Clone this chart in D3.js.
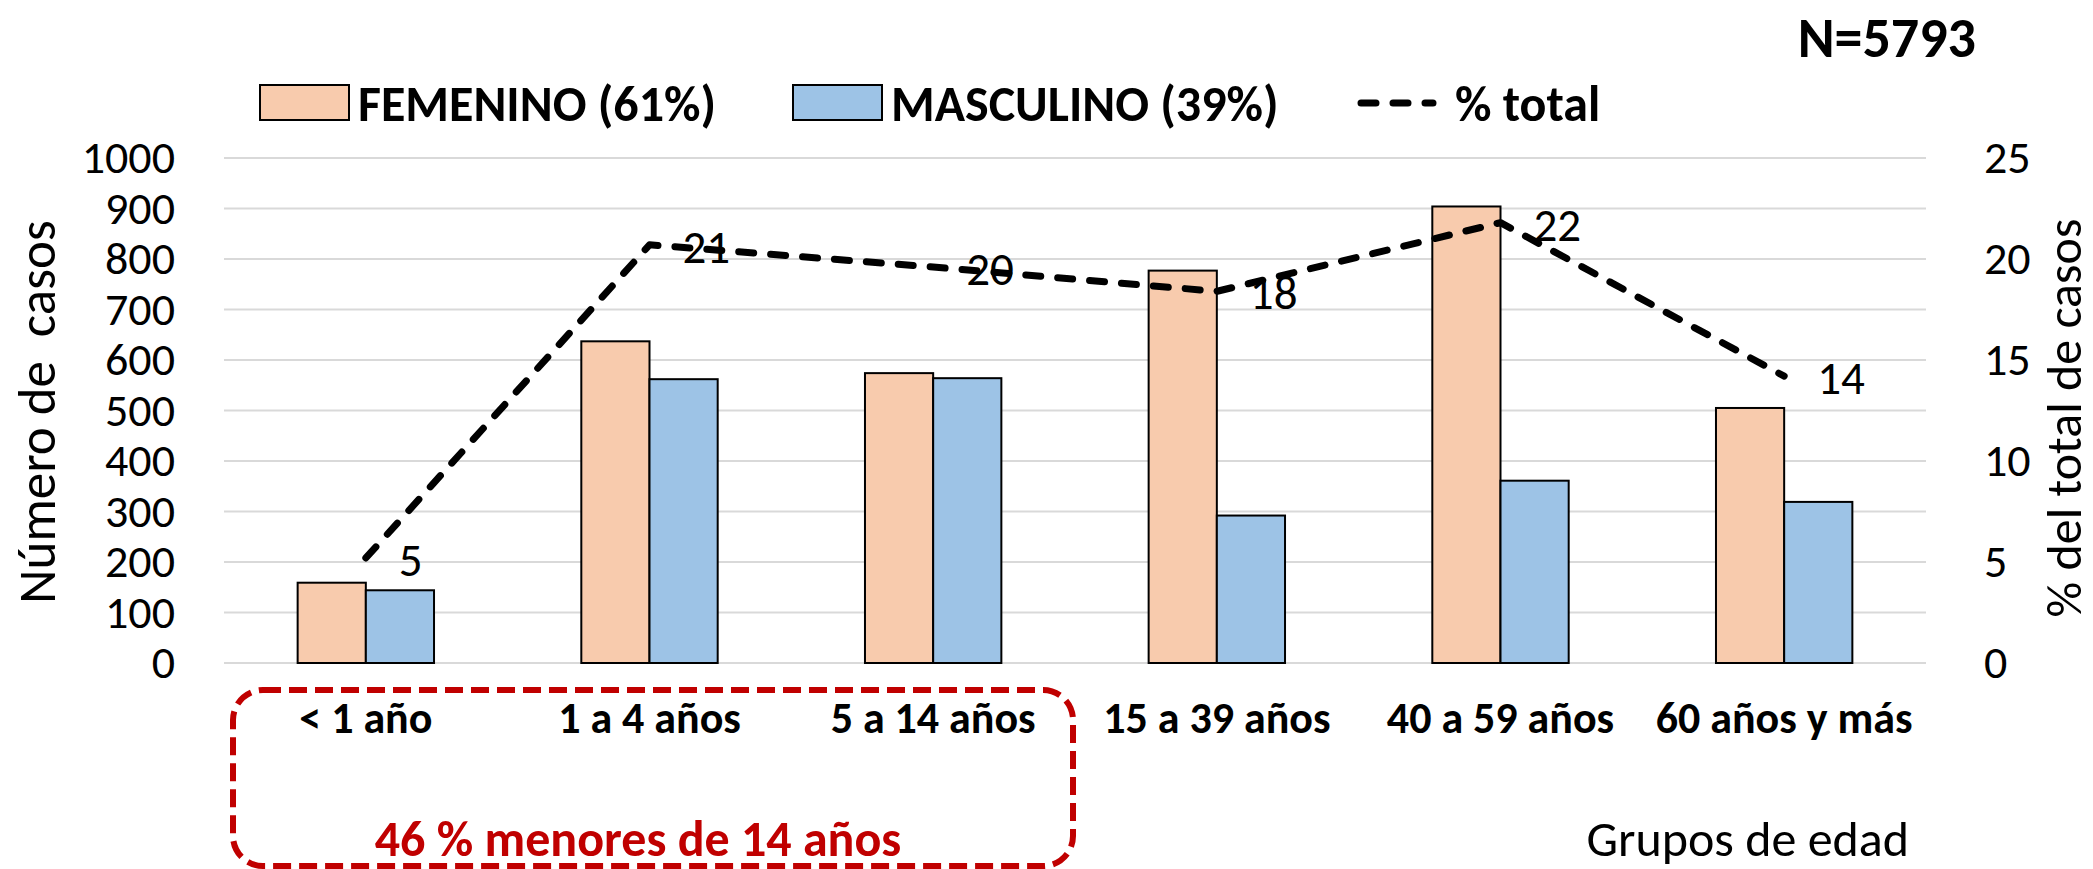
<!DOCTYPE html>
<html>
<head>
<meta charset="utf-8">
<script src="https://cdn.jsdelivr.net/npm/d3@7"></script>
<style>
  html, body { margin: 0; padding: 0; background: #fff; }
  svg text { font-family: Carlito, Calibri, "Liberation Sans Narrow", "Open Sans", sans-serif; fill: #000; }
</style>
</head>
<body>
<svg id="chart" width="2093" height="869"></svg>
<script>
// data
const groups = ['< 1 año', '1 a 4 años', '5 a 14 años', '15 a 39 años', '40 a 59 años', '60 años y más'];
const femenino = [159, 637, 574, 777, 904, 505];
const masculino = [144, 562, 564, 292, 361, 319];
const pctTotal = [5.2, 20.7, 19.6, 18.4, 21.8, 14.2];
const leftTicks = [0, 100, 200, 300, 400, 500, 600, 700, 800, 900, 1000];
const rightTicks = [0, 5, 10, 15, 20, 25];
const seriesNames = ['FEMENINO (61%)', 'MASCULINO (39%)', '% total'];

const colors = { fem: '#f8cbad', masc: '#9dc3e6', grid: '#d9d9d9', red: '#c00000' };
const plot = { left: 224, right: 1926, top: 158, bottom: 663 };

const svg = d3.select('#chart');

const x = d3.scaleBand().domain(groups).range([plot.left, plot.right]);
const xInner = d3.scaleBand().domain(['fem', 'masc']).range([0, x.bandwidth()]).paddingOuter(1.08);
const yLeft = d3.scaleLinear().domain([0, 1000]).range([plot.bottom, plot.top]);
const yRight = d3.scaleLinear().domain([0, 25]).range([plot.bottom, plot.top]);

// gridlines
svg.append('g')
  .selectAll('line')
  .data(leftTicks)
  .join('line')
  .attr('x1', plot.left)
  .attr('x2', plot.right)
  .attr('y1', d => yLeft(d))
  .attr('y2', d => yLeft(d))
  .attr('stroke', colors.grid)
  .attr('stroke-width', 2);

// left axis
const gLeft = svg.append('g')
  .attr('transform', 'translate(175,0)')
  .call(d3.axisLeft(yLeft).tickValues(leftTicks).tickFormat(d3.format('d')).tickSize(0).tickPadding(0));
gLeft.select('.domain').remove();
gLeft.selectAll('text')
  .style('font-size', '46px')
  .attr('fill', '#000');

// right axis
const gRight = svg.append('g')
  .attr('transform', 'translate(1984,0)')
  .call(d3.axisRight(yRight).tickValues(rightTicks).tickSize(0).tickPadding(0));
gRight.select('.domain').remove();
gRight.selectAll('text')
  .style('font-size', '46px')
  .attr('fill', '#000');

// bars
const barData = groups.map((g, i) => ({ g: g, fem: femenino[i], masc: masculino[i] }));
const gGroups = svg.append('g')
  .selectAll('g')
  .data(barData)
  .join('g')
  .attr('transform', d => `translate(${x(d.g)},0)`);

gGroups.selectAll('rect')
  .data(d => [{ k: 'fem', v: d.fem }, { k: 'masc', v: d.masc }])
  .join('rect')
  .attr('x', d => xInner(d.k))
  .attr('width', xInner.bandwidth())
  .attr('y', d => yLeft(d.v))
  .attr('height', d => yLeft(0) - yLeft(d.v))
  .attr('fill', d => colors[d.k])
  .attr('stroke', '#000')
  .attr('stroke-width', 2);

// % total line
const linePts = groups.map((g, i) => [x(g) + x.bandwidth() / 2, yRight(pctTotal[i])]);
svg.append('path')
  .datum(linePts)
  .attr('d', d3.line())
  .attr('fill', 'none')
  .attr('stroke', '#000')
  .attr('stroke-width', 7)
  .attr('stroke-dasharray', '15,17')
  .attr('stroke-linecap', 'round')
  .attr('stroke-linejoin', 'round');

svg.append('g')
  .selectAll('text')
  .data(linePts)
  .join('text')
  .attr('x', d => d[0] + 33)
  .attr('y', d => d[1] + 2)
  .attr('dominant-baseline', 'central')
  .style('font-size', '47px')
  .text((d, i) => Math.round(pctTotal[i]));

// category labels
svg.append('g')
  .selectAll('text')
  .data(groups)
  .join('text')
  .attr('x', d => x(d) + x.bandwidth() / 2)
  .attr('y', 733)
  .attr('text-anchor', 'middle')
  .style('font-size', '44px')
  .style('font-weight', 'bold')
  .text(d => d);

// axis titles
svg.append('text')
  .attr('transform', 'translate(37,412) rotate(-90)')
  .attr('text-anchor', 'middle')
  .attr('dominant-baseline', 'central')
  .style('font-size', '53px')
  .style('white-space', 'pre')
  .text('Número de  casos');

svg.append('text')
  .attr('transform', 'translate(2063,418) rotate(-90)')
  .attr('text-anchor', 'middle')
  .attr('dominant-baseline', 'central')
  .style('font-size', '50px')
  .text('% del total de casos');

svg.append('text')
  .attr('x', 1909)
  .attr('y', 838)
  .attr('text-anchor', 'end')
  .attr('dominant-baseline', 'central')
  .style('font-size', '50px')
  .text('Grupos de edad');

// N
svg.append('text')
  .attr('x', 1976)
  .attr('y', 38)
  .attr('text-anchor', 'end')
  .attr('dominant-baseline', 'central')
  .style('font-size', '56px')
  .style('font-weight', 'bold')
  .text('N=5793');

// legend
const legend = svg.append('g');
const legendItems = [
  { name: seriesNames[0], type: 'rect', color: colors.fem, x: 260 },
  { name: seriesNames[1], type: 'rect', color: colors.masc, x: 793 },
  { name: seriesNames[2], type: 'line', x: 1357 }
];
legendItems.forEach(it => {
  if (it.type === 'rect') {
    legend.append('rect')
      .attr('x', it.x).attr('y', 85)
      .attr('width', 89).attr('height', 35)
      .attr('fill', it.color)
      .attr('stroke', '#000')
      .attr('stroke-width', 2);
  } else {
    legend.append('line')
      .attr('x1', it.x + 4).attr('x2', it.x + 76)
      .attr('y1', 103).attr('y2', 103)
      .attr('stroke', '#000')
      .attr('stroke-width', 7)
      .attr('stroke-dasharray', '15,17')
      .attr('stroke-linecap', 'round');
  }
  legend.append('text')
    .attr('x', it.x + 98).attr('y', 103)
    .attr('dominant-baseline', 'central')
    .style('font-size', '50px')
    .style('font-weight', 'bold')
    .text(it.name);
});

// annotation box for under-14 groups
svg.append('rect')
  .attr('x', 233).attr('y', 690)
  .attr('width', 840).attr('height', 176)
  .attr('rx', 30).attr('ry', 30)
  .attr('fill', 'none')
  .attr('stroke', colors.red)
  .attr('stroke-width', 6)
  .attr('stroke-dasharray', '18,8');

svg.append('text')
  .attr('x', 638).attr('y', 838)
  .attr('text-anchor', 'middle')
  .attr('dominant-baseline', 'central')
  .style('font-size', '50px')
  .style('font-weight', 'bold')
  .style('fill', colors.red)
  .text('46 % menores de 14 años');
</script>
</body>
</html>
